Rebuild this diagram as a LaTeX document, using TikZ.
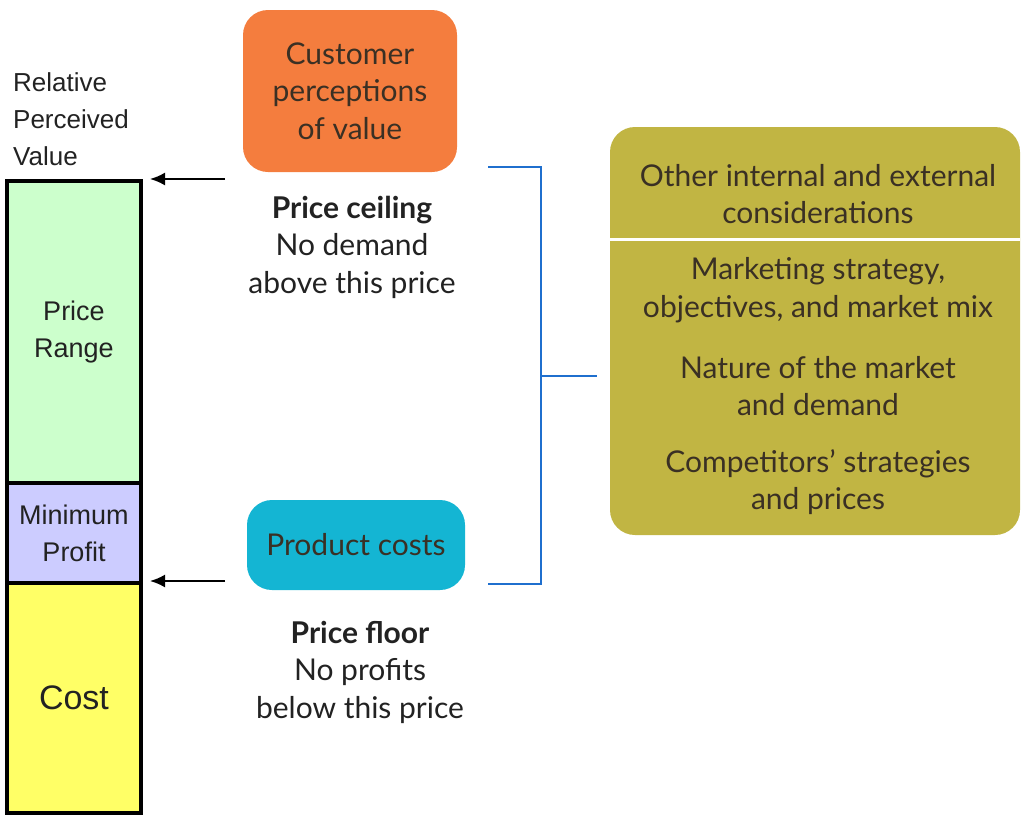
\documentclass[tikz,border=0pt]{standalone}
\usepackage{fontspec}
\usepackage{xcolor}
\usepackage{tikz}
\usetikzlibrary{arrows.meta}
\setmainfont{Lato}
\newfontfamily\arialfont{Liberation Sans}

\definecolor{rangegreen}{HTML}{CCFFCC}
\definecolor{profitlilac}{HTML}{CCCCFF}
\definecolor{costyellow}{HTML}{FFFF66}
\definecolor{custorange}{HTML}{F47D3E}
\definecolor{costteal}{HTML}{14B5D3}
\definecolor{factorolive}{HTML}{C1B543}
\definecolor{bracketblue}{HTML}{1F6FCE}
\definecolor{textdark}{HTML}{3A3024}
\definecolor{notegray}{HTML}{222222}

\begin{document}
\begin{tikzpicture}[x=1pt,y=-1pt]
\tikzstyle{every node}+=[inner sep=0pt]
\tikzstyle{seg}=[draw=black, line width=4pt, minimum width=134pt, align=center, text=notegray, font=\arialfont\fontsize{27}{37}\selectfont]
\tikzstyle{card}=[rounded corners=25pt, align=center, text=textdark, font=\fontsize{30}{37.5}\selectfont]
\tikzstyle{note}=[align=center, text=notegray, font=\fontsize{30}{37.5}\selectfont]
\tikzstyle{ptr}=[-{Latex[length=15pt,width=13pt]}, line width=2pt, shorten >=7pt]
\tikzstyle{brace}=[draw=bracketblue, line width=2.5pt]
\useasboundingbox (0,0) rectangle (1024,822);
% value bar
\node[anchor=west, align=left, text=notegray, font=\arialfont\fontsize{26}{37}\selectfont] (axis) at (13,119) {Relative\\Perceived\\Value};
\node[seg, fill=rangegreen, minimum height=302pt] (range) at (74,332) {Price\\Range};
\node[seg, fill=profitlilac, minimum height=100pt] (minprofit) at (74,533) {Minimum\\Profit};
\node[seg, fill=costyellow, minimum height=230pt, font=\arialfont\fontsize{34}{40}\selectfont] (cost) at (74,698) {Cost};
% ceiling and floor
\node[card, fill=custorange, minimum width=214pt, minimum height=162pt] (ceilbox) at (350,91) {Customer\\perceptions\\of value};
\node[note] (ceilnote) at (352,247) {\textbf{Price ceiling}\\No demand\\above this price};
\node[card, fill=costteal, minimum width=218pt, minimum height=90pt] (floorbox) at (356,545) {Product costs};
\node[note] (floornote) at (360,672) {\textbf{Price floor}\\No profits\\below this price};
\coordinate (ceilfrom) at (225,179);
\coordinate (floorfrom) at (225,581);
\draw[ptr] (ceilfrom) -- (range.north east);
\draw[ptr] (floorfrom) -- (cost.north east);
% other considerations
\node[card, fill=factorolive, minimum width=410pt, minimum height=408pt] (factors) at (815,331) {};
\draw[white, line width=3pt] (factors.west |- 0,239) -- (factors.east |- 0,239);
\node[card] (internal) at (818,194) {Other internal and external\\considerations};
\node[card] (strategy) at (818,290) {Marketing strategy,\\objectives, and market mix};
\node[card] (market) at (818,386) {Nature of the market\\and demand};
\node[card] (rivals) at (818,482) {Competitors’ strategies\\and prices};
\coordinate (btop) at (488,167);
\coordinate (bbot) at (488,584);
\draw[brace] (btop) -- ++(53,0) |- (bbot);
\draw[brace] (541,376) -- ([xshift=-13pt]factors.west |- 0,376);
\end{tikzpicture}
\end{document}
